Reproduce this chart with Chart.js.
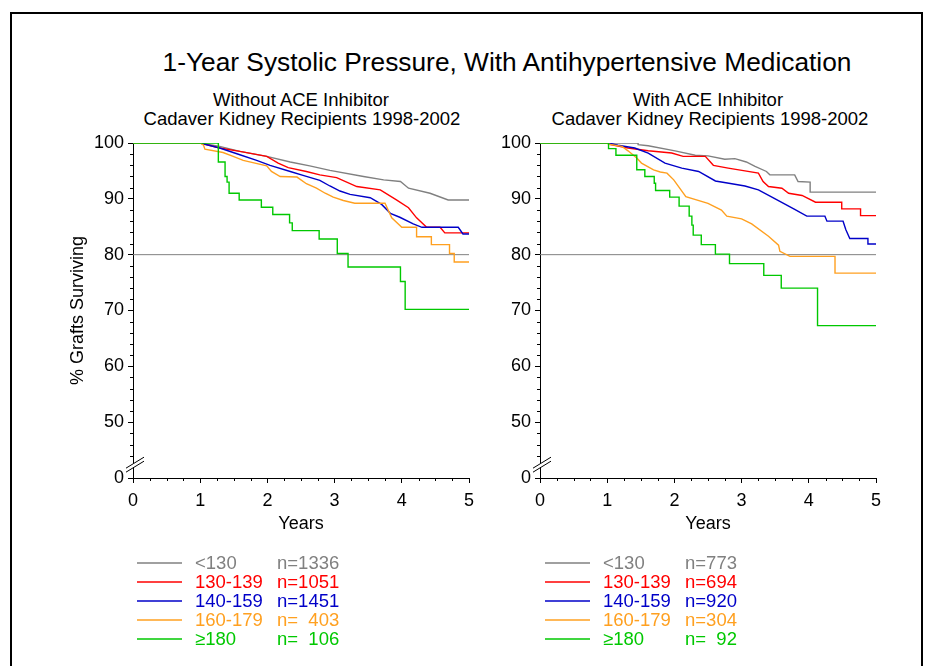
<!DOCTYPE html>
<html>
<head>
<meta charset="utf-8">
<script src="https://cdn.jsdelivr.net/npm/chart.js@4.4.1/dist/chart.umd.min.js"></script>
<style>
  body { margin: 0; background: #fff; font-family: "Liberation Sans", Arial, sans-serif; }
  #page { position: relative; width: 934px; height: 666px; overflow: hidden; }
  #frame { position: absolute; left: 10px; top: 12px; width: 909px; height: 720px; border: 2px solid #000; }
  .txt { position: absolute; white-space: pre; color: #000; transform: translate(-50%, -50%); line-height: 22px; }
  .leg { position: absolute; white-space: pre; font-size: 18.5px; line-height: 20px; }
  svg.legsvg { position: absolute; left: 0; top: 0; overflow: visible; }
  canvas { position: absolute; }
</style>
</head>
<body>
<div id="page">
  <div id="frame"></div>
  <div class="txt" style="left:507px; top:62px; font-size:26.3px; line-height:30px;">1-Year Systolic Pressure, With Antihypertensive Medication</div>
  <div class="txt" style="left:301px; top:100px; font-size:18.5px;">Without ACE Inhibitor</div>
  <div class="txt" style="left:302px; top:119px; font-size:18.5px;">Cadaver Kidney Recipients 1998-2002</div>
  <div class="txt" style="left:708px; top:100px; font-size:18.5px;">With ACE Inhibitor</div>
  <div class="txt" style="left:710px; top:119px; font-size:18.5px;">Cadaver Kidney Recipients 1998-2002</div>
  <canvas id="leftChart" width="483" height="412" style="left:0px; top:127px;"></canvas>
  <canvas id="rightChart" width="410" height="412" style="left:480px; top:127px;"></canvas>
  <svg class="legsvg" id="legendLines" width="934" height="666"></svg>
  <div id="leftLegend"></div>
  <div id="rightLegend"></div>
</div>
<script>
// groups and counts
const groupLabels = ["<130", "130-139", "140-159", "160-179", "\u2265180"];
const groupColors = ["#808080", "#ff0000", "#0000c8", "#ffa020", "#00c800"];
const countsWithout = ["n=1336", "n=1051", "n=1451", "n=  403", "n=  106"];
const countsWith = ["n=773", "n=694", "n=920", "n=304", "n=  92"];

const yearTicks = [0, 1, 2, 3, 4, 5];
// y axis is broken: the 40 position is labelled 0
const survivalTicks = [40, 50, 60, 70, 80, 90, 100];
const referenceLevel = 80;

// Without ACE inhibitor: [years, % surviving]
const withoutLt130 = [[0,100],[1.0,100],[1.29,99.4],[1.59,98.5],[1.99,97.6],[2.34,96.6],[2.63,95.9],[2.93,95.1],[3.43,94.0],[3.73,93.4],[3.98,93.1],[4.10,91.9],[4.42,91.0],[4.69,89.8],[5.0,89.8]];
const without130 = [[0,100],[1.0,100],[1.29,99.1],[1.59,98.5],[1.99,97.6],[2.16,96.4],[2.31,95.6],[2.58,94.9],[2.78,94.3],[3.03,93.8],[3.33,92.2],[3.68,91.6],[3.92,89.8],[4.10,88.4],[4.22,86.6],[4.37,84.9],[4.57,84.9],[4.64,83.9],[5.0,83.9]];
const without140 = [[0,100],[1.0,100],[1.29,99.1],[1.59,97.9],[1.84,96.9],[2.04,96.0],[2.34,94.9],[2.53,94.2],[2.78,93.3],[2.93,92.3],[3.08,91.4],[3.23,90.8],[3.53,90.2],[3.70,89.0],[3.83,87.4],[3.97,86.7],[4.17,85.5],[4.30,84.9],[4.84,84.9],[4.91,83.7],[5.0,83.7]];
const without160 = [[0,100],[1.0,100],[1.05,99.6],[1.07,98.9],[1.34,98.3],[1.49,97.6],[1.64,96.9],[1.99,95.9],[2.06,94.9],[2.19,94.0],[2.44,93.9],[2.58,92.7],[2.73,91.9],[2.86,91.0],[2.98,90.3],[3.13,89.7],[3.30,89.2],[3.75,89.2],[3.85,86.6],[4.0,84.9],[4.22,84.9],[4.22,83.2],[4.44,83.2],[4.44,81.8],[4.71,81.8],[4.71,80.2],[4.78,80.2],[4.78,78.7],[5.0,78.7]];
const without180 = [[0,100],[1.27,100],[1.27,96.6],[1.37,96.6],[1.37,94.0],[1.40,94.0],[1.40,93.0],[1.43,93.0],[1.43,91.0],[1.58,91.0],[1.58,89.8],[1.91,89.8],[1.91,88.5],[2.08,88.5],[2.08,87.2],[2.33,87.2],[2.33,85.7],[2.37,85.7],[2.37,84.3],[2.77,84.3],[2.77,82.8],[3.04,82.8],[3.04,80.2],[3.20,80.2],[3.20,77.8],[3.98,77.8],[3.98,75.2],[4.05,75.2],[4.05,70.2],[5.0,70.2]];

// With ACE inhibitor
const withLt130 = [[0,100],[1.46,100],[1.46,99.7],[1.61,99.5],[2.01,98.6],[2.31,97.8],[2.50,97.7],[2.75,97.1],[2.90,97.2],[3.07,96.6],[3.20,95.8],[3.37,94.9],[3.42,94.3],[3.79,94.3],[3.84,93.1],[4.02,93.0],[4.02,91.2],[5.0,91.2]];
const with130 = [[0,100],[1.02,100],[1.02,99.8],[1.31,99.1],[1.61,98.6],[1.96,98.2],[2.13,97.6],[2.46,97.6],[2.58,96.0],[2.80,95.5],[3.05,95.0],[3.25,94.6],[3.32,93.1],[3.40,92.2],[3.60,91.9],[3.70,91.0],[3.90,90.6],[4.10,89.4],[4.49,89.4],[4.49,88.2],[4.77,88.2],[4.77,87.0],[5.0,87.0]];
const with140 = [[0,100],[1.02,100],[1.16,99.6],[1.41,99.1],[1.61,98.2],[1.86,96.4],[2.11,95.5],[2.36,94.9],[2.61,93.2],[2.81,92.8],[3.05,92.3],[3.25,91.6],[3.50,90.0],[3.79,88.1],[3.97,86.9],[4.24,86.9],[4.27,86.0],[4.51,86.0],[4.55,84.5],[4.61,82.9],[4.88,82.9],[4.88,81.9],[5.0,81.9]];
const with160 = [[0,100],[1.02,100],[1.02,99.8],[1.22,99.4],[1.31,98.6],[1.44,97.3],[1.51,96.4],[1.69,95.2],[1.79,94.8],[1.89,94.6],[1.99,93.4],[2.17,90.4],[2.50,89.2],[2.70,88.0],[2.78,86.9],[3.0,86.4],[3.15,85.5],[3.40,83.3],[3.55,81.7],[3.57,80.6],[3.72,79.7],[4.39,79.7],[4.39,76.7],[5.0,76.7]];
const with180 = [[0,100],[1.02,100],[1.02,99.0],[1.13,99.0],[1.13,97.8],[1.44,97.8],[1.44,95.2],[1.56,95.2],[1.56,94.0],[1.70,94.0],[1.70,92.8],[1.72,92.8],[1.72,91.5],[1.93,91.5],[1.93,90.3],[2.07,90.3],[2.07,88.7],[2.22,88.7],[2.22,86.9],[2.26,86.9],[2.26,85.3],[2.28,85.3],[2.28,83.5],[2.40,83.5],[2.40,81.8],[2.61,81.8],[2.61,80.1],[2.82,80.1],[2.82,78.4],[3.33,78.4],[3.33,76.3],[3.59,76.3],[3.59,74.0],[4.13,74.0],[4.13,67.3],[5.0,67.3]];

const FONT = "'Liberation Sans', Arial, sans-serif";

// small ticks between the labelled ones, drawn on the library's scales
const minorTicks = {
  id: "minorTicks",
  afterDraw(chart) {
    const ctx = chart.ctx;
    const xs = chart.scales.x;
    const ys = chart.scales.y;
    ctx.save();
    ctx.strokeStyle = "#000";
    ctx.lineWidth = 1;
    ctx.beginPath();
    for (let v = 0.25; v < 5; v += 0.25) {
      if (Math.abs(v - Math.round(v)) < 0.01) continue;
      const px = Math.round(xs.getPixelForValue(v)) + 0.5;
      ctx.moveTo(px, xs.top);
      ctx.lineTo(px, xs.top + 3);
    }
    for (let v = 44; v < 100; v += 2) {
      if (v % 10 === 0) continue;
      const py = Math.round(ys.getPixelForValue(v)) + 0.5;
      ctx.moveTo(ys.right - 3, py);
      ctx.lineTo(ys.right, py);
    }
    ctx.stroke();

    // axis break marks
    const bx = ys.right;
    const by = ys.getPixelForValue(42.3);
    ctx.fillStyle = "#fff";
    ctx.fillRect(bx - 2, by - 2, 4, 4);
    ctx.beginPath();
    ctx.moveTo(bx - 7, by + 3);
    ctx.lineTo(bx + 11, by - 8);
    ctx.moveTo(bx - 7, by + 7);
    ctx.lineTo(bx + 11, by - 4);
    ctx.stroke();
    ctx.restore();
  }
};

function toPoints(pairs) {
  return pairs.map(p => ({ x: p[0], y: p[1] }));
}

function makeChart(canvasId, seriesList, showYTitle) {
  const datasets = seriesList.map((s, i) => ({
    data: toPoints(s),
    borderColor: groupColors[i],
    borderWidth: 1.4,
    pointRadius: 0,
    fill: false,
    tension: 0,
    order: 5 - i
  }));
  datasets.push({
    data: toPoints([[0, referenceLevel], [5, referenceLevel]]),
    borderColor: "#808080",
    borderWidth: 1,
    pointRadius: 0,
    fill: false,
    order: 10
  });

  return new Chart(document.getElementById(canvasId), {
    type: "line",
    data: { datasets },
    options: {
      responsive: false,
      animation: false,
      devicePixelRatio: 1,
      layout: { padding: { left: showYTitle ? 63 : 0, top: 16, right: 14, bottom: 0 } },
      plugins: { legend: { display: false }, tooltip: { enabled: false } },
      scales: {
        x: {
          type: "linear",
          min: 0,
          max: 5,
          afterBuildTicks: (scale) => { scale.ticks = yearTicks.map(v => ({ value: v })); },
          afterFit: (scale) => { scale.height = 61; },
          ticks: { color: "#000", font: { family: FONT, size: 18 }, padding: 7, maxRotation: 0 },
          grid: { drawOnChartArea: false, drawTicks: true, tickLength: 5, color: "#000" },
          border: { display: true, color: "#000", width: 1 },
          title: { display: true, text: "Years", color: "#000", font: { family: FONT, size: 18 } }
        },
        y: {
          type: "linear",
          min: 40,
          max: 100,
          afterBuildTicks: (scale) => { scale.ticks = survivalTicks.map(v => ({ value: v })); },
          afterFit: (scale) => { scale.width = showYTitle ? 70 : 60; },
          ticks: {
            color: "#000",
            font: { family: FONT, size: 18 },
            padding: 4,
            callback: (v) => (v === 40 ? "0" : String(v))
          },
          grid: { drawOnChartArea: false, drawTicks: true, tickLength: 5, color: "#000" },
          border: { display: true, color: "#000", width: 1 },
          title: { display: showYTitle, text: "% Grafts Surviving", color: "#000", font: { family: FONT, size: 18 } }
        }
      }
    },
    plugins: [minorTicks]
  });
}

const svgNS = "http://www.w3.org/2000/svg";

function buildLegend(containerId, lineLeft, textLeft, countLeft, counts) {
  const box = document.getElementById(containerId);
  const svg = document.getElementById("legendLines");
  groupLabels.forEach((label, i) => {
    const cy = 563 + i * 19;
    const line = document.createElementNS(svgNS, "line");
    line.setAttribute("x1", lineLeft);
    line.setAttribute("x2", lineLeft + 45);
    line.setAttribute("y1", cy);
    line.setAttribute("y2", cy);
    line.setAttribute("stroke", groupColors[i]);
    line.setAttribute("stroke-width", "1.5");
    svg.appendChild(line);

    const t = document.createElement("div");
    t.className = "leg";
    t.style.left = textLeft + "px";
    t.style.top = (cy - 10) + "px";
    t.style.color = groupColors[i];
    t.textContent = label;
    box.appendChild(t);

    const n = document.createElement("div");
    n.className = "leg";
    n.style.left = countLeft + "px";
    n.style.top = (cy - 10) + "px";
    n.style.color = groupColors[i];
    n.textContent = counts[i];
    box.appendChild(n);
  });
}

makeChart("leftChart", [withoutLt130, without130, without140, without160, without180], true);
makeChart("rightChart", [withLt130, with130, with140, with160, with180], false);
buildLegend("leftLegend", 137, 195, 277, countsWithout);
buildLegend("rightLegend", 545, 603, 685, countsWith);
</script>
</body>
</html>
